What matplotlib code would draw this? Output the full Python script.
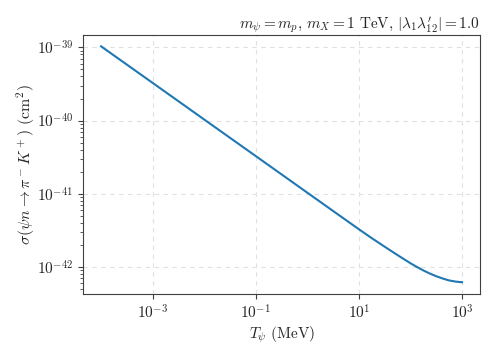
import matplotlib
matplotlib.use("Agg")
import matplotlib.pyplot as plt
from matplotlib.ticker import FixedLocator, NullLocator, LogLocator, NullFormatter

# Kinetic energy T_psi (MeV) and cross section (cm^2)
T_psi = [1e-4, 1e-3, 1e-2, 1e-1, 1.0, 3.162, 5.623, 10.0, 17.78, 31.62, 56.23, 100.0,
         133.4, 177.8, 237.1, 316.2, 421.7, 562.3, 749.9, 1000.0]
sigma = [1.033e-39, 3.27e-40, 1.033e-40, 3.27e-41, 1.033e-41, 5.81e-42, 4.36e-42, 3.27e-42,
         2.47e-42, 1.888e-42, 1.449e-42, 1.122e-42, 9.99e-43, 8.95e-43, 8.12e-43, 7.46e-43,
         6.94e-43, 6.53e-43, 6.30e-43, 6.17e-43]
x_ticks = [1e-3, 1e-1, 1e1, 1e3]
y_ticks = [1e-42, 1e-41, 1e-40, 1e-39]

plt.rcParams['mathtext.fontset'] = 'cm'
plt.rcParams['font.family'] = 'serif'
plt.rcParams['font.serif'] = ['cmr10', 'DejaVu Serif']
plt.rcParams['axes.formatter.use_mathtext'] = True

fig = plt.figure(figsize=(4.98, 3.56), dpi=100)
ax = fig.add_axes([0.1667, 0.174, 0.7973, 0.729])
ax.plot(T_psi, sigma, color='#1f77b4', lw=1.5)
ax.set_xscale('log')
ax.set_yscale('log')
ax.xaxis.set_major_locator(FixedLocator(x_ticks))
ax.xaxis.set_minor_locator(NullLocator())
ax.yaxis.set_major_locator(FixedLocator(y_ticks))
ax.yaxis.set_minor_locator(LogLocator(base=10, subs=range(2, 10), numticks=20))
ax.yaxis.set_minor_formatter(NullFormatter())
ax.grid(True, which='major', ls=(0, (4, 4)), color='0.88', lw=0.8)
for s in ax.spines.values():
    s.set_color('0.25')
ax.tick_params(axis='both', which='major', labelsize=11, colors='0.25', labelcolor='0.15')
ax.tick_params(axis='both', which='minor', colors='0.25')
ax.set_xlabel(r'$T_\psi\ (\mathrm{MeV})$', fontsize=11, color='0.15', labelpad=2)
ax.set_ylabel(r'$\sigma(\psi n \to \pi^- K^+)\ (\mathrm{cm}^2)$', fontsize=11.5, color='0.15', labelpad=0)
ax.set_title(r"$m_\psi = m_p,\, m_X = 1\ \mathrm{TeV},\, |\lambda_1\lambda^\prime_{12}| = 1.0$",
             loc='right', fontsize=11, color='0.15', pad=3)
fig.savefig('out.png', dpi=100)
